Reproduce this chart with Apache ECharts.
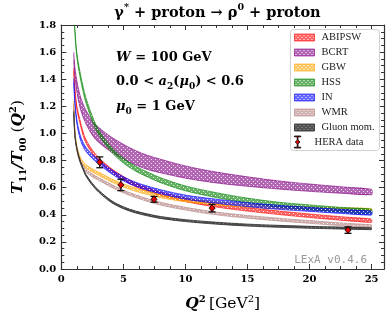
<!DOCTYPE html>
<html><head><meta charset="utf-8">
<script src="https://cdn.jsdelivr.net/npm/echarts@6/dist/echarts.min.js"></script>
<style>html,body{margin:0;padding:0;background:#fff}#c{width:391px;height:317px}</style>
</head><body><div id="c"></div>
<script>
// ---- data ----
const q2 = [1, 1.1, 1.25, 1.5, 1.75, 2, 2.5, 3, 4, 5, 6, 7, 8, 10, 12.5, 15, 17.5, 20, 22.5, 25];

const abipswLo = [1.457, 1.307, 1.177, 1.077, 0.987, 0.927, 0.852, 0.797, 0.717, 0.657, 0.607, 0.572, 0.542, 0.497, 0.457, 0.427, 0.402, 0.380, 0.360, 0.343];
const abipswHi = [1.483, 1.333, 1.203, 1.103, 1.013, 0.953, 0.878, 0.823, 0.743, 0.683, 0.633, 0.598, 0.568, 0.523, 0.483, 0.453, 0.428, 0.406, 0.386, 0.369];

const bcrtLo = [1.54, 1.415, 1.31, 1.195, 1.122, 1.07, 0.987, 0.935, 0.865, 0.81, 0.767, 0.733, 0.71, 0.67, 0.635, 0.61, 0.59, 0.573, 0.559, 0.547];
const bcrtHi = [1.60, 1.485, 1.39, 1.285, 1.218, 1.17, 1.093, 1.045, 0.975, 0.92, 0.873, 0.837, 0.81, 0.76, 0.715, 0.68, 0.65, 0.627, 0.607, 0.589];

const gbwLo = [1.218, 1.008, 0.888, 0.808, 0.768, 0.745, 0.715, 0.691, 0.643, 0.605, 0.573, 0.548, 0.526, 0.496, 0.473, 0.456, 0.444, 0.435, 0.428, 0.423];
const gbwHi = [1.242, 1.032, 0.912, 0.832, 0.792, 0.769, 0.739, 0.715, 0.667, 0.629, 0.597, 0.572, 0.550, 0.520, 0.497, 0.480, 0.468, 0.459, 0.452, 0.447];

const hssLo = [1.932, 1.732, 1.562, 1.422, 1.312, 1.222, 1.092, 0.992, 0.867, 0.782, 0.722, 0.677, 0.637, 0.577, 0.527, 0.487, 0.457, 0.437, 0.419, 0.405];
const hssHi = [1.968, 1.768, 1.598, 1.458, 1.348, 1.258, 1.128, 1.028, 0.903, 0.818, 0.758, 0.713, 0.673, 0.613, 0.563, 0.523, 0.493, 0.473, 0.455, 0.441];

const inLo = [1.375, 1.205, 1.075, 0.965, 0.905, 0.865, 0.815, 0.775, 0.705, 0.65, 0.61, 0.58, 0.555, 0.515, 0.485, 0.46, 0.44, 0.425, 0.41, 0.397];
const inHi = [1.405, 1.235, 1.105, 0.995, 0.935, 0.895, 0.845, 0.805, 0.735, 0.68, 0.64, 0.61, 0.585, 0.545, 0.515, 0.49, 0.47, 0.455, 0.44, 0.427];

const wmrLo = [1.19, 0.99, 0.87, 0.79, 0.745, 0.715, 0.68, 0.655, 0.605, 0.562, 0.527, 0.497, 0.472, 0.435, 0.40, 0.375, 0.355, 0.337, 0.32, 0.306];
const wmrHi = [1.21, 1.01, 0.89, 0.81, 0.765, 0.735, 0.70, 0.675, 0.625, 0.582, 0.547, 0.517, 0.492, 0.455, 0.42, 0.395, 0.375, 0.357, 0.34, 0.326];

const gluonLo = [1.153, 0.973, 0.883, 0.793, 0.733, 0.683, 0.618, 0.568, 0.493, 0.445, 0.413, 0.391, 0.373, 0.35, 0.331, 0.317, 0.308, 0.301, 0.295, 0.29];
const gluonHi = [1.167, 0.987, 0.897, 0.807, 0.747, 0.697, 0.632, 0.582, 0.507, 0.459, 0.427, 0.405, 0.387, 0.364, 0.345, 0.331, 0.322, 0.315, 0.309, 0.304];

const heraQ2  = [3.1, 4.8, 7.47, 12.15, 23.1];
const heraVal = [0.787, 0.62, 0.514, 0.449, 0.287];
const heraErr = [0.040, 0.042, 0.021, 0.028, 0.024];

const modelNames = ['ABIPSW', 'BCRT', 'GBW', 'HSS', 'IN', 'WMR', 'Gluon mom.'];
const xMajorTicks = [0, 5, 10, 15, 20, 25];
const yTickLabels = ['0.0','0.2','0.4','0.6','0.8','1.0','1.2','1.4','1.6','1.8'];

// ---- styles ----
const SERIF = 'DejaVu Serif';
const LSERIF = 'Liberation Serif';
const bandLo = [abipswLo, bcrtLo, gbwLo, hssLo, inLo, wmrLo, gluonLo];
const bandHi = [abipswHi, bcrtHi, gbwHi, hssHi, inHi, wmrHi, gluonHi];
const bandRGB = ['255,0,0', '128,0,128', '255,165,0', '0,128,0', '0,0,255', '188,143,143', '50,50,50'];
const fillA = [0.6, 0.6, 0.6, 0.6, 0.6, 0.7, 0.85];
const edgeA = [0.6, 0.6, 0.6, 0.6, 0.6, 0.7, 0.85];
const dotA  = [0.85, 0.85, 0.85, 0.85, 0.85, 0.85, 0.35];

function pattern(rgb, a, d) {
  const c = document.createElement('canvas');
  c.width = 4; c.height = 4;
  const g = c.getContext('2d');
  g.fillStyle = 'rgba(' + rgb + ',' + a + ')';
  g.fillRect(0, 0, 4, 4);
  g.fillStyle = 'rgba(255,255,255,' + d + ')';
  g.fillRect(1, 1, 1, 1);
  g.fillRect(3, 3, 1, 1);
  return { image: c, repeat: 'repeat' };
}

const SMOOTH = 0.35;
const series = [];
const legendData = [];
modelNames.forEach((name, k) => {
  const edge = 'rgba(' + bandRGB[k] + ',' + edgeA[k] + ')';
  const pat = pattern(bandRGB[k], fillA[k], dotA[k]);
  const lo = bandLo[k], hi = bandHi[k];
  series.push({
    type: 'custom', name: name, z: 2 + k, clip: true, silent: true,
    data: q2.map((x, i) => [x, lo[i], hi[i]]),
    encode: { x: 0, y: [1, 2] },
    renderItem: function (params, api) {
      if (params.dataIndexInside !== 0) return null;
      const n = params.dataInsideLength;
      const top = [], bot = [];
      for (let i = 0; i < n; i++) {
        const x = api.value(0, i);
        bot.push(api.coord([x, api.value(1, i)]));
        top.push(api.coord([x, api.value(2, i)]));
      }
      const poly = top.concat(bot.slice().reverse());
      return { type: 'group', children: [
        { type: 'polygon', shape: { points: poly, smooth: SMOOTH }, style: { fill: pat, stroke: null } },
        { type: 'polyline', shape: { points: top, smooth: SMOOTH }, style: { fill: null, stroke: edge, lineWidth: 1 } },
        { type: 'polyline', shape: { points: bot, smooth: SMOOTH }, style: { fill: null, stroke: edge, lineWidth: 1 } }
      ]};
    }
  });
  legendData.push({ name: name, icon: 'rect',
    itemStyle: { color: pattern(bandRGB[k], fillA[k], dotA[k] + 0.1), borderColor: edge, borderWidth: 1 } });
});

series.push({
  type: 'custom', name: 'HERA data', z: 20,
  data: heraQ2.map((x, i) => [x, heraVal[i], heraErr[i]]),
  encode: { x: 0, y: 1 },
  renderItem: function (params, api) {
    const x = api.value(0), y = api.value(1), e = api.value(2);
    const t = api.coord([x, y + e]), b = api.coord([x, y - e]);
    const w = 3.5, st = { stroke: '#111', lineWidth: 1.3 };
    return { type: 'group', children: [
      { type: 'line', shape: { x1: t[0], y1: t[1], x2: b[0], y2: b[1] }, style: st },
      { type: 'line', shape: { x1: t[0] - w, y1: t[1], x2: t[0] + w, y2: t[1] }, style: st },
      { type: 'line', shape: { x1: b[0] - w, y1: b[1], x2: b[0] + w, y2: b[1] }, style: st }
    ]};
  }
});
series.push({
  type: 'scatter', name: 'HERA data', z: 21,
  data: heraQ2.map((x, i) => [x, heraVal[i]]),
  symbol: 'diamond', symbolSize: [6, 7],
  itemStyle: { color: '#e00000', borderColor: '#000', borderWidth: 0.8, opacity: 1 }
});

const axisCol = '#333';
const lineSt = { color: axisCol, width: 1.2 };
function xAx(pos, interval, len, labels) {
  return {
    type: 'value', position: pos, min: 0, max: 26, interval: interval,
    axisLine: { show: true, onZero: false, lineStyle: lineSt },
    axisTick: { show: true, inside: true, length: len, lineStyle: { color: axisCol, width: 1 } },
    axisLabel: labels ? {
      show: true, margin: 5, color: '#000', fontFamily: SERIF, fontWeight: 'bold', fontSize: 10,
      formatter: v => (xMajorTicks.indexOf(v) >= 0 ? String(v) : '')
    } : { show: false },
    splitLine: { show: false }
  };
}
function yAx(pos, labels) {
  return {
    type: 'value', position: pos, min: 0, max: 1.8, interval: 0.2,
    axisLine: { show: true, onZero: false, lineStyle: lineSt },
    axisTick: { show: true, inside: true, length: 5, lineStyle: { color: axisCol, width: 1 } },
    minorTick: { show: true, splitNumber: 4, length: 3, lineStyle: { color: axisCol, width: 1 } },
    axisLabel: labels ? {
      show: true, margin: 5, color: '#000', fontFamily: SERIF, fontWeight: 'bold', fontSize: 10,
      formatter: (v) => yTickLabels[Math.round(v / 0.2)] || ''
    } : { show: false },
    splitLine: { show: false }, minorSplitLine: { show: false }
  };
}

const xAxes = [xAx('bottom', 5, 5, true), xAx('bottom', 1.25, 3, false), xAx('top', 5, 5, false), xAx('top', 1.25, 3, false)];
xAxes[0].name = '{qi|Q}{sup|2} {r|[GeV}{sup2|2}{r|]}';
xAxes[0].nameLocation = 'middle';
xAxes[0].nameGap = 25;
xAxes[0].nameTextStyle = { color: '#000', rich: {
  qi: { fontFamily: SERIF, fontWeight: 'bold', fontStyle: 'italic', fontSize: 15.5, lineHeight: 20, color: '#000' },
  sup: { fontFamily: SERIF, fontWeight: 'bold', fontSize: 10, verticalAlign: 'top', lineHeight: 13, color: '#000' },
  sup2: { fontFamily: SERIF, fontSize: 10, verticalAlign: 'top', lineHeight: 13, color: '#000' },
  r: { fontFamily: SERIF, fontSize: 15.5, lineHeight: 20, color: '#000' }
}};
const yAxes = [yAx('left', true), yAx('right', false)];
yAxes[0].name = '{ti|T}{sub|11}{ti|/T}{sub|00}{r| (}{ti|Q}{sup|2}{r|)}';
yAxes[0].nameLocation = 'middle';
yAxes[0].nameGap = 32;
yAxes[0].nameRotate = 90;
yAxes[0].nameTextStyle = { color: '#000', rich: {
  ti: { fontFamily: SERIF, fontWeight: 'bold', fontStyle: 'italic', fontSize: 15.5, lineHeight: 20, color: '#000' },
  sub: { fontFamily: SERIF, fontWeight: 'bold', fontSize: 10, verticalAlign: 'bottom', lineHeight: 12, color: '#000' },
  sup: { fontFamily: SERIF, fontWeight: 'bold', fontSize: 10, verticalAlign: 'top', lineHeight: 13, color: '#000' },
  r: { fontFamily: SERIF, fontSize: 15.5, lineHeight: 20, color: '#000' }
}};

const bRich = {
  b: { fontFamily: SERIF, fontWeight: 'bold', fontSize: 13, lineHeight: 18, color: '#000' },
  i: { fontFamily: SERIF, fontWeight: 'bold', fontStyle: 'italic', fontSize: 13, lineHeight: 18, color: '#000' },
  sub: { fontFamily: SERIF, fontWeight: 'bold', fontSize: 9, verticalAlign: 'bottom', lineHeight: 11, color: '#000' },
  sup: { fontFamily: SERIF, fontWeight: 'bold', fontSize: 9, verticalAlign: 'top', lineHeight: 11, color: '#000' }
};
function txt(x, y, text, rich, align) {
  return { type: 'text', x: x, y: y, z: 30,
    style: { text: text, rich: rich, align: align || 'left', verticalAlign: 'middle',
      textAlign: align || 'left', textVerticalAlign: 'middle' } };
}
const titleRich = {
  b: { fontFamily: SERIF, fontWeight: 'bold', fontSize: 14.5, lineHeight: 20, color: '#000' },
  sup: { fontFamily: SERIF, fontWeight: 'bold', fontSize: 9.5, verticalAlign: 'top', lineHeight: 12, color: '#000' }
};

const option = {
  animation: false,
  backgroundColor: '#fff',
  grid: { left: 51, right: 7, top: 25, bottom: 44, containLabel: false },
  xAxis: xAxes,
  yAxis: yAxes,
  legend: [
    { data: legendData, orient: 'vertical', left: 294, top: 31, itemWidth: 20, itemHeight: 7, itemGap: 2,
      padding: 0, selectedMode: false, z: 40,
      textStyle: { fontFamily: LSERIF, fontSize: 10.5, lineHeight: 13, color: '#222', padding: [0, 0, 0, 2] } },
    { data: [{ name: 'HERA data', icon: 'path://M0,0H8V1H4.5V5.2L7,7.5L4.5,9.8V14H8V15H0V14H3.5V9.8L1,7.5L3.5,5.2V1H0Z',
        itemStyle: { color: '#e00000', borderColor: '#000', borderWidth: 0.8 } }],
      orient: 'vertical', left: 294, top: 135.5, itemWidth: 20, itemHeight: 12, padding: 0, selectedMode: false, z: 40,
      textStyle: { fontFamily: LSERIF, fontSize: 10.5, lineHeight: 13, color: '#222', padding: [0, 0, 0, 2] } }
  ],
  graphic: [
    { type: 'rect', z: 35, shape: { x: 290.5, y: 29.5, width: 89, height: 121, r: 3 },
      style: { fill: 'rgba(255,255,255,0.85)', stroke: '#d0d0d0', lineWidth: 1 } },
    txt(217.5, 13, '{b|γ}{sup|*}{b| + proton → ρ}{sup|0}{b| + proton}', titleRich, 'center'),
    txt(116, 58, '{i|W}{b| = 100 GeV}', bRich),
    txt(116, 82, '{b|0.0 < }{i|a}{sub|2}{b|(}{i|μ}{sub|0}{b|) < 0.6}', bRich),
    txt(116, 107, '{i|μ}{sub|0}{b| = 1 GeV}', bRich),
    { type: 'text', x: 367, y: 260, z: 30,
      style: { text: 'LExA v0.4.6', fontFamily: 'DejaVu Sans Mono', fontSize: 11, fill: '#999',
        align: 'right', verticalAlign: 'middle', textAlign: 'right', textVerticalAlign: 'middle' } }
  ],
  series: series
};
const chart = echarts.init(document.getElementById('c'));
chart.setOption(option);
</script>
</body></html>
